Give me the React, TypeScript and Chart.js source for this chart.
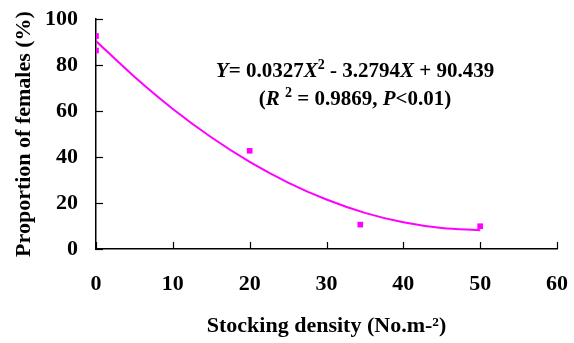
import React, { useEffect, useRef } from "react";
import { Chart, registerables } from "chart.js";

Chart.register(...registerables);

const obsX = [0, 0, 20, 34.4, 50];
const obsY = [92.6, 86.3, 42.7, 10.6, 9.9];

// trendline
const trendX = [0, 5, 10, 15, 20, 25, 30, 35, 40, 45, 50];
const trendY = [90.4, 74.9, 60.9, 48.6, 37.9, 28.9, 21.5, 15.7, 11.6, 9.1, 8.2];

const xTicks = [0, 10, 20, 30, 40, 50, 60];
const yTicks = [0, 20, 40, 60, 80, 100];

const xTitle = "Stocking density (No.m-²)";
const yTitle = "Proportion of females (%)";

type Seg = { t: string; i?: boolean; sup?: boolean };
const eqLine1: Seg[] = [
  { t: "Y", i: true },
  { t: "= 0.0327" },
  { t: "X", i: true },
  { t: "2", sup: true },
  { t: " - 3.2794" },
  { t: "X", i: true },
  { t: " + 90.439" },
];
const eqLine2: Seg[] = [
  { t: "(" },
  { t: "R", i: true },
  { t: " " },
  { t: "2", sup: true },
  { t: " = 0.9869, " },
  { t: "P", i: true },
  { t: "<0.01)" },
];

const FONT = "'Liberation Serif', 'Times New Roman', serif";
const MAGENTA = "#ff00ff";

const annotationPlugin = {
  id: "annot",
  afterDraw(chart: any) {
    const ctx = chart.ctx as CanvasRenderingContext2D;
    const xs = chart.scales.x;
    const ys = chart.scales.y;
    const area = chart.chartArea;
    ctx.save();
    // inward ticks
    ctx.strokeStyle = "#000";
    ctx.lineWidth = 1.2;
    xTicks.forEach((v) => {
      const px = Math.round(xs.getPixelForValue(v)) + 0.5;
      ctx.beginPath();
      ctx.moveTo(px, area.bottom);
      ctx.lineTo(px, area.bottom - 7);
      ctx.stroke();
    });
    yTicks.forEach((v) => {
      const py = Math.round(ys.getPixelForValue(v)) + 0.5;
      ctx.beginPath();
      ctx.moveTo(area.left, py);
      ctx.lineTo(area.left + 7, py);
      ctx.stroke();
    });
    // equation text
    const size = 21;
    const supSize = 14;
    const fontFor = (s: Seg) =>
      `${s.i ? "italic " : ""}bold ${s.sup ? supSize : size}px ${FONT}`;
    const drawLine = (segs: Seg[], cx: number, baseY: number) => {
      let total = 0;
      segs.forEach((s) => {
        ctx.font = fontFor(s);
        total += ctx.measureText(s.t).width;
      });
      let x = cx - total / 2;
      ctx.fillStyle = "#000";
      ctx.textBaseline = "alphabetic";
      ctx.textAlign = "left";
      segs.forEach((s) => {
        ctx.font = fontFor(s);
        ctx.fillText(s.t, x, s.sup ? baseY - 8 : baseY);
        x += ctx.measureText(s.t).width;
      });
    };
    drawLine(eqLine1, 355, 77);
    drawLine(eqLine2, 355, 105);
    ctx.restore();
  },
};

export default function App() {
  const ref = useRef<HTMLCanvasElement | null>(null);
  useEffect(() => {
    if (!ref.current) return;
    const chart = new Chart(ref.current, {
      type: "scatter",
      data: {
        datasets: [
          {
            type: "line",
            data: trendX.map((x, i) => ({ x, y: trendY[i] })),
            borderColor: MAGENTA,
            borderWidth: 2,
            pointRadius: 0,
            cubicInterpolationMode: "monotone",
            fill: false,
          } as any,
          {
            data: obsX.map((x, i) => ({ x, y: obsY[i] })),
            backgroundColor: MAGENTA,
            borderWidth: 0,
            pointStyle: "rect",
            pointRadius: 4,
          },
        ],
      },
      options: {
        animation: false,
        responsive: false,
        maintainAspectRatio: false,
        layout: { padding: { left: 0, top: 19, right: 17, bottom: 0 } },
        plugins: { legend: { display: false }, tooltip: { enabled: false } },
        scales: {
          x: {
            type: "linear",
            min: 0,
            max: 60,
            afterBuildTicks: (s: any) => {
              s.ticks = xTicks.map((v) => ({ value: v }));
            },
            afterFit: (s: any) => {
              s.height = 94;
              s.paddingLeft = 0;
              s.paddingRight = 0;
            },
            grid: { display: false, drawTicks: false },
            border: { display: true, color: "#000", width: 1.5 },
            ticks: {
              padding: 22,
              color: "#000",
              font: { family: FONT, size: 22, weight: "bold" },
            },
            title: {
              display: true,
              text: xTitle,
              color: "#000",
              font: { family: FONT, size: 22, weight: "bold" },
              padding: { top: 0, bottom: 3 },
            },
          },
          y: {
            type: "linear",
            min: 0,
            max: 100,
            afterBuildTicks: (s: any) => {
              s.ticks = yTicks.map((v) => ({ value: v }));
            },
            afterFit: (s: any) => {
              s.width = 96;
              s.paddingTop = 0;
              s.paddingBottom = 0;
            },
            grid: { display: false, drawTicks: false },
            border: { display: true, color: "#000", width: 1.5 },
            ticks: {
              padding: 18,
              color: "#000",
              font: { family: FONT, size: 22, weight: "bold" },
            },
            title: {
              display: true,
              text: yTitle,
              color: "#000",
              font: { family: FONT, size: 22, weight: "bold" },
              padding: { top: 11, bottom: 0 },
            },
          },
        },
      },
      plugins: [annotationPlugin],
    });
    return () => chart.destroy();
  }, []);
  return (
    <div style={{ position: "fixed", left: 0, top: 0, width: 574, height: 343, background: "#fff" }}>
      <canvas ref={ref} width={574} height={343} style={{ display: "block" }} />
    </div>
  );
}
